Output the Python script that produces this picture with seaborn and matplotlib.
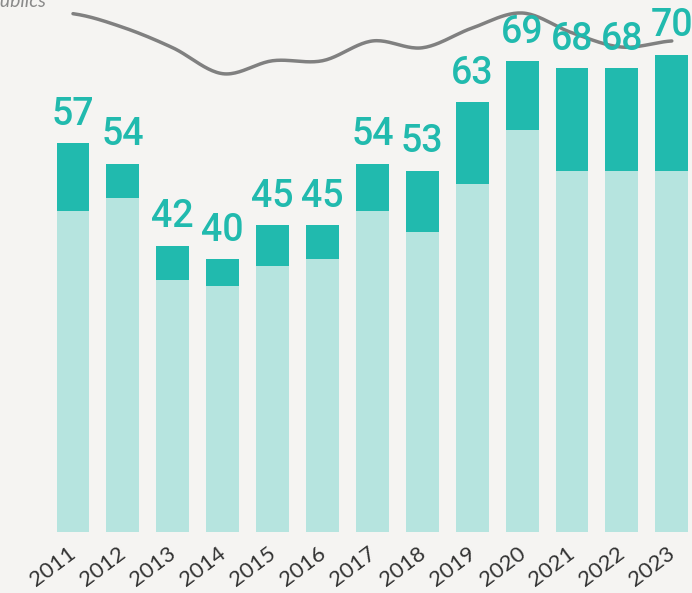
import numpy as np
import pandas as pd
import matplotlib
matplotlib.use("Agg")
import matplotlib.pyplot as plt
import matplotlib.transforms as mtransforms
import seaborn as sns

years = ["2011", "2012", "2013", "2014", "2015", "2016", "2017",
         "2018", "2019", "2020", "2021", "2022", "2023"]
base_part = [47, 49, 37, 36, 39, 40, 47, 44, 51, 59, 53, 53, 53]
top_part = [10, 5, 5, 4, 6, 5, 7, 9, 12, 10, 15, 15, 17]
totals = [57, 54, 42, 40, 45, 45, 54, 53, 63, 69, 68, 68, 70]
trend = [76.0, 74.0, 71.0, 67.2, 69.1, 69.1, 72.0, 71.0, 73.9, 76.1, 73.2, 71.1, 72.0]

BG = "#F5F4F2"
LIGHT = "#B6E4DF"
DARK = "#21BAAE"
GREY = "#808080"

sns.set_theme(style="white", rc={"axes.facecolor": BG, "figure.facecolor": BG})

fig = plt.figure(figsize=(6.92, 5.93), dpi=100)
ax = fig.add_axes([0, 61 / 593, 1, 532 / 593])

df = pd.DataFrame({"year": years, "base": base_part, "top": top_part, "total": totals})

# stacked bars: full height in dark teal, lower segment in light teal on top of it
sns.barplot(data=df, x="year", y="total", color=DARK, width=0.66,
            saturation=1, ax=ax, zorder=2)
sns.barplot(data=df, x="year", y="base", color=LIGHT, width=0.66,
            saturation=1, ax=ax, zorder=3)
for p in ax.patches:
    p.set_edgecolor("none")

# value labels above each bar
for i, v in enumerate(totals):
    ax.annotate(str(v), (i, v), xytext=(0, 7.5), textcoords="offset points",
                ha="center", va="bottom", fontsize=27, color=DARK,
                family="Roboto", fontweight="medium", zorder=5)


def catmull_rom(xs, ys, n=24):
    xs = np.asarray(xs, float)
    ys = np.asarray(ys, float)
    px = np.concatenate([[2 * xs[0] - xs[1]], xs, [2 * xs[-1] - xs[-2]]])
    py = np.concatenate([[ys[0]], ys, [ys[-1]]])
    out_x, out_y = [], []
    t = np.linspace(0, 1, n, endpoint=False)
    for k in range(1, len(px) - 2):
        for arr, out in ((px, out_x), (py, out_y)):
            p0, p1, p2, p3 = arr[k - 1], arr[k], arr[k + 1], arr[k + 2]
            out.extend(0.5 * ((2 * p1) + (-p0 + p2) * t
                              + (2 * p0 - 5 * p1 + 4 * p2 - p3) * t ** 2
                              + (-p0 + 3 * p1 - 3 * p2 + p3) * t ** 3))
    out_x.append(xs[-1])
    out_y.append(ys[-1])
    return np.array(out_x), np.array(out_y)


sx, sy = catmull_rom(np.arange(len(years)), trend)
sns.lineplot(x=sx, y=sy, sort=False, color=GREY, linewidth=2.5, ax=ax,
             zorder=4, estimator=None)

ax.set_xlim(-73 / 49.9, (692 - 73) / 49.9)
ax.set_ylim(0, 532 / 6.82)
ax.set_xlabel("")
ax.set_ylabel("")
ax.set_yticks([])
for s in ax.spines.values():
    s.set_visible(False)

ax.tick_params(axis="x", length=0, pad=8)
shift = mtransforms.ScaledTranslation(-5 / 100, 0, fig.dpi_scale_trans)
for lab in ax.get_xticklabels():
    lab.set_rotation(37)
    lab.set_ha("right")
    lab.set_va("top")
    lab.set_rotation_mode("anchor")
    lab.set_fontsize(16)
    lab.set_family("Lato")
    lab.set_color("#333333")
    lab.set_transform(lab.get_transform() + shift)

fig.text(46 / 692, 1 - 7 / 593, "Marchés publics", ha="right", va="baseline",
         fontsize=14, style="italic", color="#8A8A8A", family="Lato")

fig.savefig("out.png", dpi=100, facecolor=BG)
